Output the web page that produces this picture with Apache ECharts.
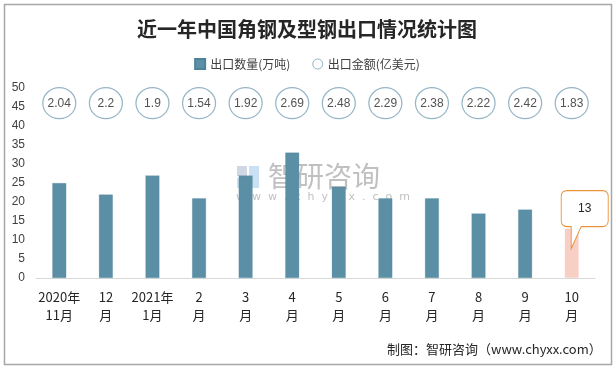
<!DOCTYPE html>
<html><head><meta charset="utf-8">
<script src="https://cdn.jsdelivr.net/npm/echarts@6/dist/echarts.min.js"></script>
<style>html,body{margin:0;padding:0;background:#fff}#c{width:614px;height:369px}</style>
</head><body><div id="c"></div>
<script>
const categories = ['2020年\n11月','12\n月','2021年\n1月','2\n月','3\n月','4\n月','5\n月','6\n月','7\n月','8\n月','9\n月','10\n月'];
const quantity = [25, 22, 27, 21, 27, 33, 24, 21, 21, 17, 18, 13];
const amount = [2.04, 2.2, 1.9, 1.54, 1.92, 2.69, 2.48, 2.29, 2.38, 2.22, 2.42, 1.83];
const circleLevel = 46;
const yTicks = [0, 50, 5];

const barColor = '#5B8FA6';
const chart = echarts.init(document.getElementById('c'));
const barData = quantity.map((v, i) => i === quantity.length - 1
  ? {value: v, itemStyle: {color: '#F8CFC4', borderColor: '#F8CFC4'}}
  : v);
const last = quantity.length - 1;
chart.setOption({
  animation: false,
  title: {
    text: '近一年中国角钢及型钢出口情况统计图', left: 'center', top: 14,
    textStyle: {fontSize: 20, fontWeight: 'bold', color: '#262626', fontFamily: 'Noto Sans CJK SC'}
  },
  legend: {
    top: 53, left: 'center', itemGap: 22, itemWidth: 10, itemHeight: 10,
    textStyle: {fontSize: 12, color: '#404040', fontFamily: 'Noto Sans CJK SC'},
    data: [
      {name: '出口数量(万吨)', icon: 'rect'},
      {name: '出口金额(亿美元)', icon: 'circle', itemStyle: {color: '#fff', borderColor: '#7AA3B8', borderWidth: 1}}
    ]
  },
  grid: {left: 36, right: 19, top: 88, bottom: 91},
  xAxis: {
    type: 'category', data: categories,
    axisLine: {lineStyle: {color: '#D9D9D9'}}, axisTick: {show: false},
    axisLabel: {fontSize: 13, color: '#262626', lineHeight: 18, margin: 10, interval: 0, fontFamily: 'Noto Sans CJK SC'}
  },
  yAxis: {
    type: 'value', min: yTicks[0], max: yTicks[1], interval: yTicks[2],
    axisLine: {show: false}, axisTick: {show: false}, splitLine: {show: false},
    axisLabel: {fontSize: 12, color: '#404040', margin: 11}
  },
  series: [
    {
      name: '出口数量(万吨)', type: 'bar', data: barData, barWidth: 14,
      itemStyle: {color: barColor, borderColor: '#4F8197', borderWidth: 0.5, borderType: 'dotted'},
      markPoint: {
        symbol: 'path://M6 0L41 0Q47 0 47 6L47 30Q47 36 41 36L20 36L10 58L10 36L6 36Q0 36 0 30L0 6Q0 0 6 0Z',
        symbolSize: [47, 58], symbolOffset: [13, -9], symbolKeepAspect: false,
        itemStyle: {color: '#fff', borderColor: '#E8933A', borderWidth: 1},
        label: {show: true, color: '#262626', fontSize: 12, offset: [0, -11], formatter: '{c}'},
        data: [{coord: [last, quantity[last]], value: quantity[last]}]
      },
      z: 2
    },
    {
      name: '出口金额(亿美元)', type: 'scatter', symbol: 'circle', symbolSize: [33, 31],
      data: amount.map((a, i) => ({value: [i, circleLevel], amt: a})),
      itemStyle: {color: '#fff', borderColor: '#7AA3B8', borderWidth: 1.2},
      label: {show: true, position: 'inside', color: '#262626', fontSize: 12,
        formatter: p => String(p.data.amt)}
    }
  ],
  graphic: [
    {type: 'rect', shape: {x: 4.5, y: 4.5, width: 607, height: 360}, style: {fill: 'none', stroke: '#A6A6A6', lineWidth: 1.5}, silent: true},
    {type: 'text', left: 387, top: 343, style: {text: '制图：智研咨询（www.chyxx.com）', fontSize: 13, fill: '#262626', fontFamily: 'Noto Sans CJK SC'}},
    {type: 'group', z: 100, silent: true, children: [
      {type: 'rect', shape: {x: 237, y: 166, width: 10, height: 10}, style: {fill: 'rgba(120,140,180,0.35)'}},
      {type: 'rect', shape: {x: 249, y: 166, width: 10, height: 22}, style: {fill: 'rgba(100,170,220,0.35)'}},
      {type: 'rect', shape: {x: 237, y: 178, width: 10, height: 10}, style: {fill: 'rgba(100,170,220,0.35)'}},
      {type: 'text', x: 268, y: 162, style: {text: '智研咨询', fontSize: 28, fill: 'rgba(140,140,140,0.55)', fontFamily: 'Noto Sans CJK SC'}},
      {type: 'text', x: 236, y: 192, style: {text: 'w  w  w  .  c  h  y  x  x  .  c  o  m', fontSize: 11, fill: 'rgba(140,140,140,0.55)', fontFamily: 'DejaVu Sans'}}
    ]}
  ]
});
</script></body></html>
